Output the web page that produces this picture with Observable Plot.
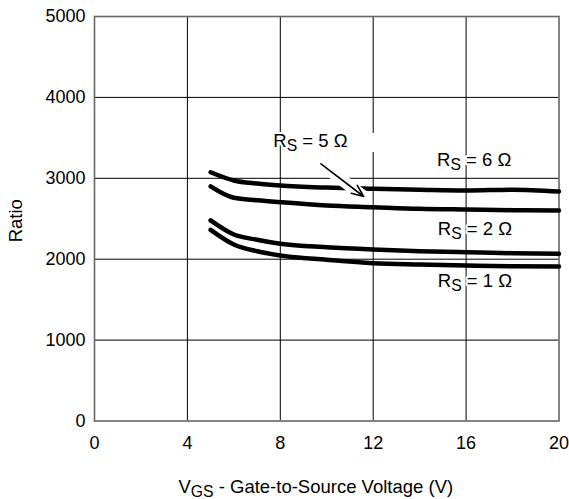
<!DOCTYPE html>
<html>
<head>
<meta charset="utf-8">
<script src="https://cdn.jsdelivr.net/npm/d3@7"></script>
<script src="https://cdn.jsdelivr.net/npm/@observablehq/plot@0.6"></script>
<style>
  html, body { margin: 0; padding: 0; background: #fff; }
  #chart { width: 569px; height: 499px; }
</style>
</head>
<body>
<div id="chart"></div>
<script>
// ---- data ----
const vgs = [5, 6, 7, 8, 10, 12, 14, 16, 18, 20];
const ratioRs6 = [3075, 2973, 2935, 2911, 2885, 2870, 2858, 2849, 2860, 2837];
const ratioRs5 = [2900, 2759, 2729, 2705, 2664, 2643, 2623, 2614, 2606, 2602];
const ratioRs2 = [2480, 2305, 2240, 2190, 2148, 2120, 2099, 2086, 2074, 2066];
const ratioRs1 = [2363, 2182, 2099, 2046, 1993, 1950, 1934, 1922, 1913, 1910];
const seriesNames = ["6 Ω", "5 Ω", "2 Ω", "1 Ω"];

const xTicks = [0, 4, 8, 12, 16, 20];
const yTicks = [0, 1000, 2000, 3000, 4000, 5000];

const labelText = ["R_S = 6 Ω", "R_S = 5 Ω", "R_S = 2 Ω", "R_S = 1 Ω"];
const labelV = [14.75, 7.7, 14.78, 14.78];
const labelRatio = [3230, 3456, 2377, 1726];

const arrowFrom = {v: 9.75, r: 3179};
const arrowTo = {v: 11.59, r: 2775};

// white break in the 12 V grid line beside the 5 Ω label
const gridGap = {v: 12, r1: 3319, r2: 3554};

const xTitle = "V_GS - Gate-to-Source Voltage (V)";
const yTitle = "Ratio";

// ---- build table ----
const seriesValues = [ratioRs6, ratioRs5, ratioRs2, ratioRs1];
const rows = [];
seriesValues.forEach((vals, i) => {
  vals.forEach((r, j) => rows.push({v: vgs[j], r, s: seriesNames[i]}));
});
const labels = labelText.map((t, i) => ({t, v: labelV[i], r: labelRatio[i]}));
const arrows = [{x1: arrowFrom.v, y1: arrowFrom.r, x2: arrowTo.v, y2: arrowTo.r}];

const chart = Plot.plot({
  width: 569,
  height: 499,
  marginLeft: 94,
  marginRight: 10.5,
  marginTop: 16,
  marginBottom: 78.5,
  style: {fontFamily: "'Liberation Sans', Arial, sans-serif", fontSize: "18px", color: "#000", background: "#fff"},
  x: {domain: [0, 20]},
  y: {domain: [0, 5000]},
  marks: [
    Plot.gridX(xTicks.slice(1, -1), {stroke: "#000", strokeOpacity: 1, strokeWidth: 1}),
    Plot.gridY(yTicks.slice(1, -1), {stroke: "#000", strokeOpacity: 1, strokeWidth: 1}),
    Plot.ruleX([gridGap], {x: "v", y1: "r1", y2: "r2", stroke: "#fff", strokeWidth: 3}),
    Plot.frame({stroke: "#666", strokeWidth: 1.6}),
    Plot.axisX({ticks: xTicks, tickSize: 0, tickPadding: 15, tickFormat: d => `${d}`, label: null, fill: "#000", fontSize: 18}),
    Plot.axisY({ticks: yTicks, tickSize: 0, tickPadding: 9, tickFormat: d => `${d}`, label: null, fill: "#000", fontSize: 18}),
    Plot.line(rows, {x: "v", y: "r", z: "s", stroke: "#000", strokeWidth: 4.5, curve: "monotone-x", strokeLinecap: "round"}),
    Plot.arrow(arrows, {x1: "x1", y1: "y1", x2: "x2", y2: "y2", stroke: "#fff", strokeWidth: 12, headLength: 0, strokeLinecap: "butt"}),
    Plot.arrow(arrows, {x1: "x1", y1: "y1", x2: "x2", y2: "y2", stroke: "#000", strokeWidth: 1.6, headLength: 12, headAngle: 45}),
    Plot.text(labels, {x: "v", y: "r", text: "t", textAnchor: "start", lineAnchor: "middle", fill: "#000", stroke: "#fff", strokeWidth: 4, fontSize: 18.5}),
    Plot.text([xTitle], {text: d => d, frameAnchor: "bottom-left", dx: 84, dy: 66, textAnchor: "start", lineAnchor: "middle", fill: "#000", fontSize: 18.5}),
    Plot.text([yTitle], {text: d => d, frameAnchor: "left", dx: -78, dy: 2, rotate: -90, textAnchor: "middle", lineAnchor: "middle", fill: "#000", fontSize: 18.5})
  ]
});

// subscripts: "X_SUB rest" -> X<sub>SUB</sub> rest
chart.querySelectorAll("text").forEach(t => {
  const s = t.textContent;
  const m = s.match(/^(.)_([A-Z]+)(.*)$/);
  if (!m) return;
  while (t.firstChild) t.removeChild(t.firstChild);
  const ns = "http://www.w3.org/2000/svg";
  const a = document.createElementNS(ns, "tspan");
  a.textContent = m[1];
  const b = document.createElementNS(ns, "tspan");
  b.textContent = m[2];
  b.setAttribute("font-size", "0.85em");
  b.setAttribute("dy", "4");
  const c = document.createElementNS(ns, "tspan");
  c.textContent = m[3];
  c.setAttribute("dy", "-4");
  t.appendChild(a); t.appendChild(b); t.appendChild(c);
});

document.getElementById("chart").appendChild(chart);
</script>
</body>
</html>
